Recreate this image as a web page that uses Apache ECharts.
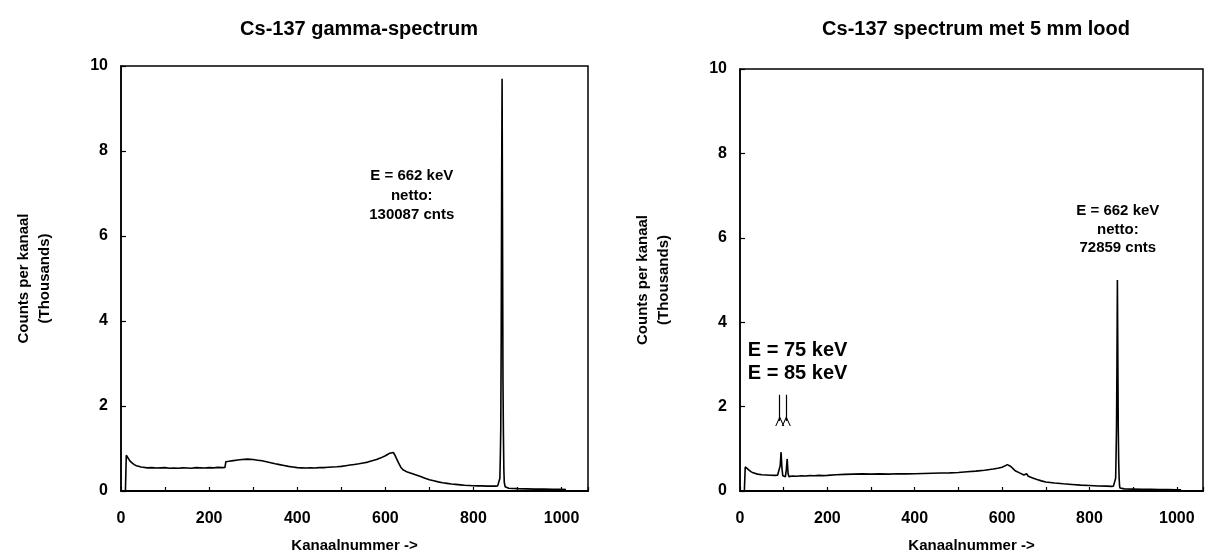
<!DOCTYPE html>
<html>
<head>
<meta charset="utf-8">
<script src="https://cdn.jsdelivr.net/npm/echarts@6/dist/echarts.min.js"></script>
<style>
html,body{margin:0;padding:0;background:#fff;}
#chart{width:1212px;height:558px;}
</style>
</head>
<body>
<div id="chart"></div>
<script>
// ---- Data (counts in thousands per channel) ----
const titles = ['Cs-137 gamma-spectrum', 'Cs-137 spectrum met 5 mm lood'];
const xTickLabels = [0, 200, 400, 600, 800, 1000];
const yTickLabels = [0, 2, 4, 6, 8, 10];

const leftChannels = [10, 11, 12, 14, 17, 20, 25, 30, 35, 40, 45, 50, 60, 70, 80, 90, 100, 110, 120, 130, 140, 150, 160, 170, 180, 190, 200, 210, 220, 230, 236,
  238, 245, 255, 265, 275, 287, 300, 310, 320, 330, 340, 350, 360, 370, 380, 390, 400, 410, 420, 430, 440, 450, 460, 470, 480, 490, 500, 510, 520, 530, 540, 550, 560, 570, 580, 590, 600, 605, 610, 614, 618, 622, 626, 630, 635, 640, 650, 660, 670, 680, 690, 700, 710, 720, 730, 740, 750, 760, 770, 780, 790, 800, 810, 820, 830, 840, 850, 855,
  858, 860, 861, 862, 863, 864, 865, 866, 867, 868, 869, 870, 872, 876, 880, 890, 900, 920, 940, 960, 980, 1000, 1010];
const leftCounts = [0, 0.40, 0.84, 0.81, 0.76, 0.71, 0.66, 0.62, 0.595, 0.58, 0.565, 0.56, 0.545, 0.55, 0.54, 0.545, 0.55, 0.535, 0.54, 0.535, 0.545, 0.54, 0.535, 0.55, 0.545, 0.54, 0.55, 0.545, 0.555, 0.55, 0.555,
  0.69, 0.70, 0.715, 0.73, 0.74, 0.75, 0.74, 0.725, 0.71, 0.69, 0.665, 0.64, 0.62, 0.60, 0.58, 0.565, 0.55, 0.545, 0.54, 0.545, 0.54, 0.55, 0.55, 0.56, 0.565, 0.57, 0.58, 0.595, 0.61, 0.625, 0.64, 0.66, 0.68, 0.71, 0.74, 0.78, 0.83, 0.86, 0.89, 0.915, 0.905, 0.84, 0.75, 0.66, 0.56, 0.50, 0.445, 0.41, 0.375, 0.34, 0.30, 0.265, 0.24, 0.215, 0.195, 0.18, 0.165, 0.155, 0.145, 0.135, 0.13, 0.125, 0.12, 0.12, 0.115, 0.115, 0.115, 0.12,
  0.16, 0.30, 0.80, 1.45, 3.6, 7.2, 9.7, 6.2, 2.6, 1.35, 0.50, 0.20, 0.10, 0.075, 0.065, 0.06, 0.055, 0.05, 0.045, 0.045, 0.04, 0.04, 0.035];

const rightChannels = [10, 11, 12, 15, 20, 25, 30, 40, 50, 60, 70, 80, 86, 90, 92, 94, 96, 98, 101, 104, 106, 108, 110, 112, 115, 120, 130, 140, 150, 160, 170, 180, 190, 200, 220, 240, 260, 280, 300, 320, 340, 360, 380, 400, 420, 440, 460, 480, 500, 520, 540, 560, 580, 590, 600, 606, 612, 616, 620, 625, 630, 640, 650, 654, 656, 660, 670, 680, 690, 700, 720, 740, 760, 780, 800, 820, 840, 850, 855,
  858, 860, 861, 862, 863, 864, 865, 866, 867, 868, 869, 870, 874, 880, 900, 920, 940, 960, 980, 1000, 1010];
const rightCounts = [0, 0.30, 0.57, 0.54, 0.50, 0.46, 0.43, 0.40, 0.385, 0.38, 0.375, 0.37, 0.375, 0.40, 0.60, 0.92, 0.55, 0.36, 0.33, 0.34, 0.50, 0.76, 0.42, 0.34, 0.35, 0.355, 0.35, 0.36, 0.355, 0.365, 0.36, 0.37, 0.365, 0.37, 0.385, 0.395, 0.40, 0.405, 0.40, 0.405, 0.40, 0.41, 0.405, 0.41, 0.415, 0.42, 0.425, 0.43, 0.44, 0.455, 0.47, 0.49, 0.52, 0.54, 0.565, 0.59, 0.625, 0.615, 0.58, 0.53, 0.48, 0.43, 0.38, 0.37, 0.41, 0.35, 0.31, 0.27, 0.24, 0.215, 0.19, 0.17, 0.155, 0.14, 0.13, 0.12, 0.115, 0.11, 0.115,
  0.15, 0.30, 0.85, 1.50, 3.0, 5.0, 3.2, 1.50, 0.70, 0.30, 0.12, 0.07, 0.055, 0.05, 0.045, 0.04, 0.04, 0.035, 0.035, 0.03, 0.03];

const leftAnnotation = { text: 'E = 662 keV\nnetto:\n130087 cnts', channel: 660, value: 6.95 };
const rightAnnotation = { text: 'E = 662 keV\nnetto:\n72859 cnts', channel: 865, value: 6.2 };
const xrayAnnotation = { text: 'E = 75 keV\nE = 85 keV', channel: 18, value: 3.05 };
const arrowChannels = [91, 106];
const arrowFrom = 2.28, arrowTo = 1.66;

// ---- Build option ----
const FONT = '"Liberation Sans", Arial, sans-serif';
const pairs = (xs, ys) => xs.map((x, i) => [x, ys[i]]);

function xAxisFor(gridIndex) {
  return {
    gridIndex, type: 'value', min: 0, max: 1060, interval: 200,
    name: 'Kanaalnummer ->', nameLocation: 'middle', nameGap: 47,
    nameTextStyle: { color: '#000', fontFamily: FONT, fontWeight: 'bold', fontSize: 15 },
    axisLine: { show: true, lineStyle: { color: '#000', width: 2 } },
    axisTick: { show: true, inside: true, length: 4, lineStyle: { color: '#000', width: 1.2 } },
    minorTick: { show: true, splitNumber: 2, length: 4, lineStyle: { color: '#000', width: 1.2 } },
    axisLabel: {
      color: '#000', fontFamily: FONT, fontWeight: 'bold', fontSize: 16, margin: 20,
      showMaxLabel: false,
      formatter: v => (xTickLabels.indexOf(v) >= 0 ? String(v) : '')
    },
    splitLine: { show: false }
  };
}
function yAxisFor(gridIndex) {
  return {
    gridIndex, type: 'value', min: 0, max: 10, interval: 2,
    name: 'Counts per kanaal\n(Thousands)', nameLocation: 'middle', nameGap: 66, nameRotate: 90,
    nameTextStyle: { color: '#000', fontFamily: FONT, fontWeight: 'bold', fontSize: 15, lineHeight: 21 },
    axisLine: { show: true, lineStyle: { color: '#000', width: 1.5 } },
    axisTick: { show: true, inside: true, length: 5, lineStyle: { color: '#000', width: 1.2 } },
    axisLabel: {
      color: '#000', fontFamily: FONT, fontWeight: 'bold', fontSize: 16, margin: 13,
      formatter: v => (yTickLabels.indexOf(v) >= 0 ? String(v) : '')
    },
    splitLine: { show: false }
  };
}
function annotationPoint(a, size, lh, align) {
  return {
    coord: [a.channel, a.value], symbol: 'circle', symbolSize: 0,
    label: {
      show: true, position: 'inside', formatter: a.text, color: '#000',
      fontFamily: FONT, fontWeight: 'bold', fontSize: size, lineHeight: lh, align: align || 'center'
    }
  };
}

const chevron = 'path://M0,0 L5,9 L10,0 L8.8,0 L5,6.8 L1.2,0 Z';

const option = {
  animation: false,
  backgroundColor: '#fff',
  title: [
    { text: titles[0], left: 354, top: 14, textAlign: 'center',
      textStyle: { color: '#000', fontFamily: FONT, fontWeight: 'bold', fontSize: 20 } },
    { text: titles[1], left: 971, top: 14, textAlign: 'center',
      textStyle: { color: '#000', fontFamily: FONT, fontWeight: 'bold', fontSize: 20 } }
  ],
  grid: [
    { left: 121, right: 1212 - 588, top: 66, bottom: 558 - 492, show: true, borderColor: '#000', borderWidth: 1.5 },
    { left: 740, right: 1212 - 1203, top: 69, bottom: 558 - 493, show: true, borderColor: '#000', borderWidth: 1.5 }
  ],
  xAxis: [xAxisFor(0), xAxisFor(1)],
  yAxis: [yAxisFor(0), yAxisFor(1)],
  series: [
    {
      type: 'line', xAxisIndex: 0, yAxisIndex: 0, data: pairs(leftChannels, leftCounts),
      showSymbol: false, symbol: 'none', lineStyle: { color: '#000', width: 1.6 },
      markPoint: { silent: true, data: [annotationPoint(leftAnnotation, 15, 19.5)] }
    },
    {
      type: 'line', xAxisIndex: 1, yAxisIndex: 1, data: pairs(rightChannels, rightCounts),
      showSymbol: false, symbol: 'none', lineStyle: { color: '#000', width: 1.6 },
      markPoint: {
        silent: true,
        data: [annotationPoint(rightAnnotation, 15, 18.5),
               annotationPoint(xrayAnnotation, 20, 23, 'left')]
      },
      markLine: {
        silent: true, symbol: ['none', chevron], symbolSize: [9, 10],
        label: { show: false },
        lineStyle: { color: '#000', width: 1.2, type: 'solid' },
        data: arrowChannels.map(c => [{ coord: [c, arrowFrom] }, { coord: [c, arrowTo] }])
      }
    }
  ]
};

const chart = echarts.init(document.getElementById('chart'), null, { renderer: 'canvas' });
chart.setOption(option);
</script>
</body>
</html>
